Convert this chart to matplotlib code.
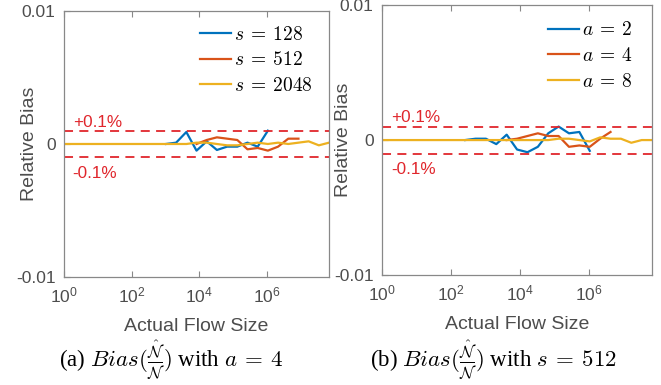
import matplotlib.pyplot as plt
import numpy as np

plt.rcParams["mathtext.fontset"] = "cm"
plt.rcParams["font.family"] = ["Liberation Sans", "DejaVu Sans"]

# flow sizes are powers of two, 2^0 .. 2^26
exponents = np.arange(0, 27)

# (a) different s, a = 4
s_labels = [r"$s\:=\:128$", r"$s\:=\:512$", r"$s\:=\:2048$"]
s128_k = np.arange(10, 21)
s128_bias = [0.0, 0.0001, 0.0009, -0.0005, 0.0002, -0.00045, -0.0002, -0.0002, 0.0001, -0.0002, 0.001]
s512_k = np.arange(13, 24)
s512_bias = [0.0, 0.0003, 0.0005, 0.0004, 0.0003, -0.0004, -0.0003, -0.0005, -0.0002, 0.0004, 0.0004]
s2048_bias = [0.0] * 13 + [0.0001, 0.0001, 0.0, -0.0001, -0.0001, 0.0, 0.0001, 0.0,
                           0.0001, 0.0, 0.0001, 0.0002, -0.0001, 0.0001]

# (b) different a, s = 512
a_labels = [r"$a\:=\:2$", r"$a\:=\:4$", r"$a\:=\:8$"]
a2_k = np.arange(8, 21)
a2_bias = [0.0, 0.0001, 0.0001, -0.0003, 0.0004, -0.0007, -0.0009, -0.0005, 0.0005, 0.001,
           0.0005, 0.0006, -0.0008]
a4_k = np.arange(12, 23)
a4_bias = [0.0, 0.0001, 0.0003, 0.0005, 0.0003, 0.0003, -0.0005, -0.0004, -0.0005, 0.0001, 0.0006]
a8_bias = [0.0] * 17 + [0.0001, 0.0001, 0.0, -0.0001, 0.0002, 0.0001, 0.0001, -0.0002, 0.0, 0.0]

captions = [
    r"(a) $Bias(\frac{\hat{\mathcal{N}}}{\mathcal{N}})$ with $a\:=\:4$",
    r"(b) $Bias(\frac{\hat{\mathcal{N}}}{\mathcal{N}})$ with $s\:=\:512$",
]

colors = ["#0072BD", "#D95319", "#EDB120"]
red = "#E0262C"
gray = "#4d4d4d"

fig = plt.figure(figsize=(6.61, 3.85), dpi=100)
ax_a = fig.add_axes([0.0968, 0.2805, 0.401, 0.691])
ax_b = fig.add_axes([0.578, 0.2857, 0.4085, 0.701])

panels = [
    (ax_a, [(s128_k, s128_bias), (s512_k, s512_bias), (exponents, s2048_bias)], s_labels,
     (0.513, 0.945), -0.097, 171),
    (ax_b, [(a2_k, a2_bias), (a4_k, a4_bias), (exponents, a8_bias)], a_labels,
     (0.615, 0.94), -0.112, 494),
]

for i, (ax, series, labels, leg_anchor, ylab_x, cap_x) in enumerate(panels):
    for (k, bias), color, label in zip(series, colors, labels):
        ax.plot(2.0 ** k, bias, color=color, linewidth=1.6, label=label)
    ax.axhline(0.001, color=red, linestyle=(0, (5, 3.5)), linewidth=1.3)
    ax.axhline(-0.001, color=red, linestyle=(0, (5, 3.5)), linewidth=1.3)
    ax.text(1.8, 0.00165, "+0.1%", color=red, fontsize=12.3, va="center")
    ax.text(1.8, -0.0022, "-0.1%", color=red, fontsize=12.3, va="center")

    ax.set_xscale("log")
    ax.set_xlim(1, 2.0 ** 26)
    ax.set_ylim(-0.01, 0.01)
    ax.set_xticks([1e0, 1e2, 1e4, 1e6])
    ax.xaxis.set_minor_locator(plt.NullLocator())
    ax.set_yticks([-0.01, 0, 0.01])
    ax.set_yticklabels(["-0.01", "0", "0.01"])
    ax.tick_params(direction="in", top=True, right=False, length=4, width=0.8,
                   colors="#888888", labelcolor=gray, labelsize=12.5, pad=6)
    for spine in ax.spines.values():
        spine.set_color("#888888")
        spine.set_linewidth(0.9)
    ax.set_xlabel("Actual Flow Size", fontsize=14, color=gray, labelpad=9)
    ax.set_ylabel("Relative Bias", fontsize=14, color=gray)
    ax.yaxis.set_label_coords(ylab_x, 0.5)

    ax.legend(loc="upper left", bbox_to_anchor=leg_anchor, frameon=False, fontsize=14,
              handlelength=1.6, handletextpad=0.15, labelspacing=0.4,
              borderaxespad=0, borderpad=0)

    fig.text(cap_x / 661, 0.062, captions[i],
             ha="center", va="center", fontsize=16.5, family="Liberation Serif")

fig.savefig("out.png", dpi=100)
